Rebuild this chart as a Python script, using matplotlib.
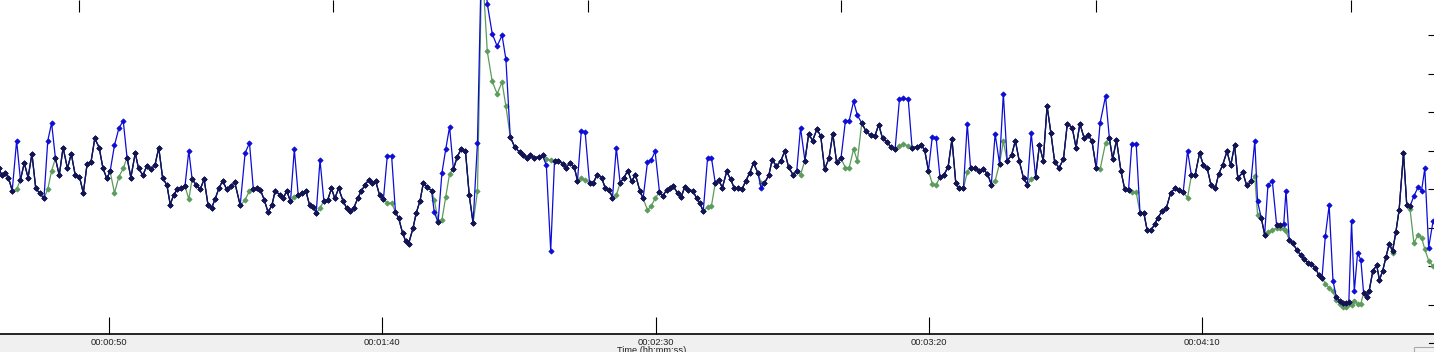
import numpy as np
import matplotlib
matplotlib.use("Agg")
import matplotlib.pyplot as plt
from matplotlib.ticker import FuncFormatter
from matplotlib.lines import Line2D
from matplotlib.patches import Rectangle

# ---- data: beat times (s), raw RR (blue) and corrected RR (green), ms ----
beat_time = [
    29.8, 30.4, 31.0, 31.6, 32.3, 33.1, 33.8, 34.5, 35.2, 35.9,
    36.6, 37.3, 38.1, 38.8, 39.5, 40.2, 40.9, 41.6, 42.4, 43.1,
    43.8, 44.6, 45.3, 46.0, 46.7, 47.4, 48.2, 48.9, 49.6, 50.2,
    51.0, 51.8, 52.6, 53.3, 54.0, 54.8, 55.4, 56.2, 56.9, 57.6,
    58.4, 59.1, 59.8, 60.6, 61.2, 61.8, 62.5, 63.2, 63.9, 64.6,
    65.2, 66.0, 66.7, 67.4, 68.1, 68.8, 69.4, 70.1, 70.8, 71.5,
    72.3, 73.0, 74.0, 74.9, 75.7, 76.4, 77.1, 77.7, 78.4, 79.1,
    79.8, 80.4, 81.2, 81.9, 82.5, 83.2, 83.9, 84.6, 85.3, 86.0,
    86.7, 87.4, 87.9, 88.6, 89.3, 90.0, 90.7, 91.3, 92.0, 92.8,
    93.5, 94.1, 94.8, 95.5, 96.1, 96.8, 97.5, 98.1, 98.8, 99.5,
    100.2, 100.9, 101.7, 102.4, 103.0, 103.7, 104.3, 104.8, 105.6, 106.2,
    106.9, 107.5, 108.2, 109.0, 109.5, 110.2, 110.9, 111.6, 112.3, 113.0,
    113.7, 114.4, 115.2, 115.9, 116.6, 117.4, 118.2, 119.2, 120.1, 121.0,
    121.9, 122.6, 123.4, 124.2, 125.1, 125.7, 126.4, 127.1, 127.8, 128.6,
    129.3, 130.0, 130.8, 131.5, 132.2, 133.0, 133.6, 134.3, 135.1, 135.7,
    136.4, 137.1, 137.9, 138.6, 139.3, 140.1, 140.8, 141.5, 142.1, 142.8,
    143.5, 144.2, 144.9, 145.6, 146.3, 147.1, 147.7, 148.5, 149.2, 149.9,
    150.7, 151.3, 152.0, 152.6, 153.2, 154.0, 154.7, 155.3, 156.0, 156.8,
    157.5, 158.1, 158.7, 159.5, 160.2, 160.9, 161.5, 162.2, 163.0, 163.7,
    164.4, 165.1, 165.8, 166.5, 167.2, 167.9, 168.7, 169.3, 169.9, 170.7,
    171.3, 172.1, 172.9, 173.6, 174.3, 175.1, 175.8, 176.5, 177.3, 178.0,
    178.7, 179.5, 180.2, 180.9, 181.7, 182.4, 183.1, 183.9, 184.7, 185.4,
    186.2, 186.9, 187.7, 188.5, 189.3, 190.1, 190.8, 191.5, 192.3, 193.0,
    193.8, 194.6, 195.3, 196.2, 196.9, 197.8, 198.5, 199.2, 199.9, 200.6,
    201.3, 202.0, 202.7, 203.5, 204.2, 204.9, 205.5, 206.3, 207.0, 207.6,
    208.4, 209.1, 209.9, 210.7, 211.4, 212.1, 212.9, 213.6, 214.3, 215.1,
    215.8, 216.5, 217.3, 218.0, 218.7, 219.5, 220.2, 220.9, 221.6, 222.3,
    223.0, 223.8, 224.6, 225.3, 226.2, 226.9, 227.6, 228.4, 229.1, 229.8,
    230.6, 231.3, 232.3, 233.0, 233.6, 234.3, 235.1, 235.8, 236.5, 237.1,
    237.9, 238.6, 239.3, 239.9, 240.7, 241.3, 241.9, 242.6, 243.4, 244.2,
    245.0, 245.8, 246.5, 247.3, 248.0, 248.7, 249.5, 250.2, 250.9, 251.6,
    252.4, 253.0, 253.7, 254.5, 255.2, 255.9, 256.5, 257.4, 258.1, 258.9,
    259.6, 260.1, 260.8, 261.4, 262.0, 262.8, 263.6, 264.2, 264.9, 265.3,
    265.9, 266.5, 267.3, 268.0, 268.6, 269.3, 269.9, 270.7, 271.3, 271.9,
    272.5, 273.2, 273.9, 274.5, 275.1, 275.7, 276.3, 276.8, 277.3, 277.8,
    278.4, 279.0, 279.5, 280.1, 280.5, 281.2, 281.9, 282.4, 283.0, 283.6,
    284.2, 284.8, 285.4, 286.0, 286.8, 287.4, 288.0, 288.7, 289.5, 290.1,
    290.7, 291.4, 292.2,
]

rr_raw = [
    728, 718, 721, 715, 698, 763, 712, 734, 715, 746,
    701, 695, 688, 763, 786, 740, 718, 754, 727, 746,
    719, 716, 695, 733, 735, 766, 754, 727, 714, 723,
    757, 779, 789, 741, 715, 747, 727, 718, 730, 726,
    731, 754, 715, 705, 680, 692, 700, 702, 704, 750,
    713, 705, 700, 713, 680, 676, 687, 701, 711, 700,
    704, 709, 679, 747, 760, 700, 701, 699, 686, 670,
    679, 698, 693, 688, 698, 684, 752, 693, 695, 698,
    679, 677, 669, 738, 685, 686, 701, 688, 701, 685,
    675, 671, 676, 688, 697, 705, 712, 708, 710, 692,
    687, 743, 743, 670, 662, 643, 632, 629, 649, 669,
    685, 708, 703, 698, 670, 657, 721, 752, 781, 726,
    742, 752, 750, 692, 656, 760, 1024, 941, 902, 886,
    900, 869, 768, 755, 748, 744, 741, 745, 741, 742,
    744, 731, 620, 737, 737, 733, 728, 734, 729, 711,
    776, 774, 708, 708, 719, 715, 701, 699, 689, 754,
    708, 715, 724, 710, 719, 698, 688, 735, 738, 749,
    696, 691, 699, 701, 704, 695, 690, 703, 699, 698,
    688, 682, 671, 741, 741, 708, 712, 702, 723, 713,
    701, 701, 700, 711, 721, 734, 721, 701, 708, 718,
    738, 730, 737, 749, 729, 719, 723, 780, 737, 772,
    763, 778, 769, 726, 740, 772, 735, 740, 788, 789,
    814, 796, 786, 775, 770, 769, 784, 766, 761, 755,
    752, 817, 818, 817, 754, 755, 758, 751, 724, 768,
    767, 716, 718, 729, 765, 708, 701, 701, 785, 728,
    728, 724, 726, 720, 706, 772, 733, 824, 737, 744,
    763, 737, 714, 706, 773, 716, 757, 737, 808, 773,
    735, 728, 739, 785, 780, 754, 785, 766, 770, 763,
    727, 786, 821, 766, 739, 764, 724, 700, 699, 759,
    759, 669, 669, 647, 647, 655, 663, 671, 675, 695,
    701, 699, 696, 750, 718, 719, 747, 731, 727, 705,
    702, 720, 731, 749, 731, 757, 714, 722, 705, 710,
    763, 684, 662, 641, 705, 711, 653, 653, 655, 698,
    634, 630, 621, 614, 609, 604, 603, 598, 588, 585,
    639, 679, 581, 560, 555, 552, 552, 553, 658, 567,
    617, 608, 565, 560, 567, 594, 601, 582, 594, 612,
    629, 620, 644, 673, 747, 679, 678, 691, 703, 698,
    727, 624, 658,
]

rr_corrected = [
    728, 718, 721, 715, 698, 700, 712, 734, 715, 746,
    701, 695, 688, 700, 724, 740, 718, 754, 727, 746,
    719, 716, 695, 733, 735, 766, 754, 727, 714, 723,
    695, 716, 727, 741, 715, 747, 727, 718, 730, 726,
    731, 754, 715, 705, 680, 692, 700, 702, 704, 687,
    713, 705, 700, 713, 680, 676, 687, 701, 711, 700,
    704, 709, 679, 686, 698, 700, 701, 699, 686, 670,
    679, 698, 693, 688, 698, 684, 690, 693, 695, 698,
    679, 677, 669, 675, 685, 686, 701, 688, 701, 685,
    675, 671, 676, 688, 697, 705, 712, 708, 710, 692,
    687, 682, 682, 670, 662, 643, 632, 629, 649, 669,
    685, 708, 703, 698, 686, 659, 660, 690, 720, 726,
    742, 752, 750, 692, 656, 697, 998, 879, 840, 824,
    839, 808, 768, 755, 748, 744, 741, 745, 741, 742,
    744, 739, 738, 737, 737, 733, 728, 734, 729, 711,
    714, 712, 708, 708, 719, 715, 701, 699, 689, 692,
    708, 715, 724, 710, 719, 698, 688, 673, 678, 688,
    696, 691, 699, 701, 704, 695, 690, 703, 699, 698,
    688, 682, 671, 677, 678, 708, 712, 702, 723, 713,
    701, 701, 700, 711, 721, 734, 721, 708, 708, 718,
    738, 730, 737, 749, 729, 719, 723, 719, 737, 772,
    763, 778, 769, 726, 740, 772, 735, 740, 728, 728,
    752, 737, 786, 775, 770, 769, 784, 766, 761, 755,
    752, 756, 759, 756, 754, 755, 758, 751, 724, 707,
    705, 716, 718, 729, 765, 708, 701, 701, 722, 728,
    728, 724, 726, 720, 706, 711, 733, 762, 737, 744,
    763, 737, 714, 706, 713, 716, 757, 737, 808, 773,
    735, 728, 739, 785, 780, 754, 785, 766, 770, 763,
    727, 726, 760, 766, 739, 764, 724, 700, 699, 696,
    696, 669, 669, 647, 647, 655, 663, 671, 675, 695,
    701, 699, 696, 689, 718, 719, 747, 731, 727, 705,
    702, 720, 731, 749, 731, 757, 714, 722, 705, 710,
    717, 667, 662, 641, 644, 647, 649, 650, 648, 645,
    634, 630, 621, 614, 609, 604, 603, 598, 588, 585,
    577, 572, 567, 556, 551, 547, 547, 551, 549, 555,
    551, 551, 565, 560, 567, 594, 601, 582, 594, 612,
    629, 617, 644, 673, 747, 679, 674, 630, 641, 637,
    622, 607, 600,
]

bottom_ticks = [50, 100, 150, 200, 250]
top_ticks = [44.5, 91.0, 137.6, 183.9, 230.5, 277.2]
right_ticks = [550, 600, 650, 700, 750, 800, 850, 900]
x_label = "Time (hh:mm:ss)"

# ---- figure ----
W, H = 1434, 352
fig = plt.figure(figsize=(W / 100, H / 100), dpi=100, facecolor="#f0f0f0")
ax = fig.add_axes([0, 18 / H, 1, 334 / H])
ax.set_facecolor("white")

t = np.array(beat_time)
b = np.array(rr_raw, dtype=float)
g = np.array(rr_corrected, dtype=float)
same = np.abs(b - g) <= 5
dark = np.where(same, b, np.nan)

BLUE = "#0c0cd6"
GREEN = "#5b9b5b"
DARK = "#15154c"
mk = dict(marker="D", markersize=2.7, markeredgewidth=0.5)

ax.plot(t, g, color=GREEN, lw=0.9, markerfacecolor=GREEN, markeredgecolor=GREEN, **mk, zorder=2)
ax.plot(t, b, color=BLUE, lw=0.9, markerfacecolor=BLUE, markeredgecolor=BLUE, **mk, zorder=3)
ax.plot(t, dark, color=DARK, lw=0.9, zorder=4)
ax.plot(t[same], b[same], ls="none", markerfacecolor=DARK, markeredgecolor=DARK, **mk, zorder=5)

ax.set_xlim(30.06, 292.38)
ax.set_ylim(511.7, 945.9)

for s in ["left", "top", "right"]:
    ax.spines[s].set_visible(False)
ax.spines["bottom"].set_linewidth(1.2)
ax.spines["bottom"].set_color("black")

def hms(v, pos=None):
    v = int(round(v))
    return "%02d:%02d:%02d" % (v // 3600, (v % 3600) // 60, v % 60)

ax.set_xticks(bottom_ticks)
ax.xaxis.set_major_formatter(FuncFormatter(hms))
ax.tick_params(axis="x", direction="in", length=12.2, width=0.8, color="black",
               pad=3, labelsize=6.7, labelcolor="#222222")
for lab in ax.get_xticklabels():
    lab.set_fontfamily("Liberation Sans")

ax.yaxis.tick_right()
ax.set_yticks(right_ticks)
ax.tick_params(axis="y", direction="in", length=4, width=0.8, color="black",
               labelright=False, labelleft=False, left=False, right=True)

sec = ax.secondary_xaxis("top")
sec.set_xticks(top_ticks)
sec.tick_params(direction="in", length=8.6, width=0.8, color="black", labeltop=False)
sec.spines["top"].set_visible(False)

fig.text(652 / W, (H - 346) / H, x_label, ha="center", va="top",
         fontsize=6.7, family="Liberation Sans", color="#222222")

# small tick below the plot on the right edge and the scroll box
fig.add_artist(Line2D([1429 / W, 1434 / W], [(H - 343) / H, (H - 343) / H],
                      transform=fig.transFigure, color="black", lw=0.8))
fig.add_artist(Rectangle((1414 / W, 0), 20 / W, 5 / H, transform=fig.transFigure,
                         facecolor="#f4f4f4", edgecolor="#a8a8a8", lw=0.8))

fig.savefig("out.png", dpi=100, facecolor=fig.get_facecolor())
